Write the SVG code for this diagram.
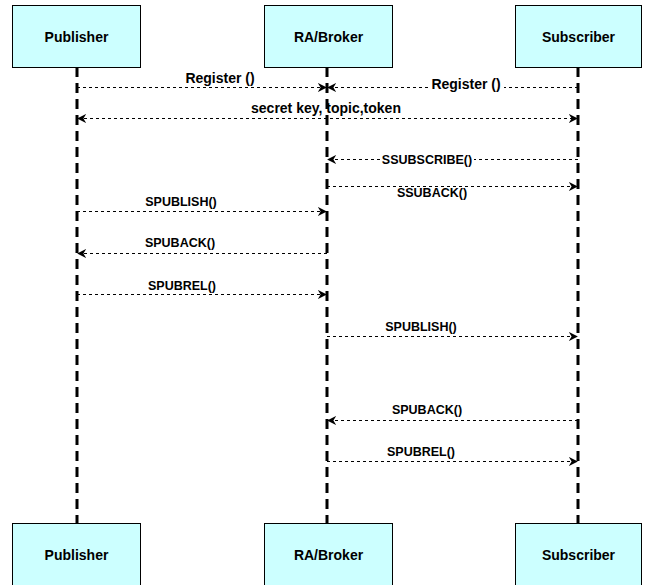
<svg xmlns="http://www.w3.org/2000/svg" width="648" height="585" viewBox="0 0 648 585">
<style>
.box{fill:#ccffff;stroke:#000;stroke-width:1}
.nl{font-family:"Liberation Sans",Arial,sans-serif;font-weight:bold;font-size:14px;text-anchor:middle;dominant-baseline:central}
.life{stroke:#000;stroke-width:3;stroke-dasharray:10 6;fill:none}
.msg{stroke:#000;stroke-width:1;stroke-dasharray:3 3;fill:none}
.ml{font-family:"Liberation Sans",Arial,sans-serif;font-weight:bold;font-size:12.5px;text-anchor:middle;dominant-baseline:central}
.mb{font-size:14px}
</style>
<defs>
<marker id="ah" viewBox="0 0 10 10" refX="9" refY="5" markerWidth="9" markerHeight="9" markerUnits="userSpaceOnUse" orient="auto-start-reverse">
<path d="M0,0 L10,5 L0,10 L3,5 Z" fill="#000"/>
</marker>
</defs>
<g id="lifelines">
<line class="life" x1="77" y1="67" x2="77" y2="523"/>
<line class="life" x1="327" y1="67" x2="327" y2="523"/>
<line class="life" x1="578" y1="67" x2="578" y2="523"/>
</g>
<g id="pub-top"><rect class="box" x="12.5" y="5.5" width="128" height="62"/><text class="nl" x="76.5" y="37">Publisher</text></g>
<g id="broker-top"><rect class="box" x="264.5" y="5.5" width="128" height="62"/><text class="nl" x="328.5" y="37">RA/Broker</text></g>
<g id="sub-top"><rect class="box" x="515.5" y="5.5" width="126" height="62"/><text class="nl" x="578.5" y="37">Subscriber</text></g>
<g id="pub-bot"><rect class="box" x="12.5" y="523.5" width="128" height="62"/><text class="nl" x="76.5" y="555">Publisher</text></g>
<g id="broker-bot"><rect class="box" x="264.5" y="523.5" width="128" height="62"/><text class="nl" x="328.5" y="555">RA/Broker</text></g>
<g id="sub-bot"><rect class="box" x="515.5" y="523.5" width="126" height="62"/><text class="nl" x="578.5" y="555">Subscriber</text></g>
<g id="connectors">
<line class="msg" x1="77" y1="87.5" x2="326" y2="87.5" marker-end="url(#ah)"/>
<text class="ml mb" x="220" y="78">Register ()</text>
<line class="msg" x1="578" y1="87.5" x2="328" y2="87.5" marker-end="url(#ah)"/>
<rect x="428" y="77" width="76" height="15" fill="#fff"/>
<text class="ml mb" x="466" y="84">Register ()</text>
<line class="msg" x1="78" y1="118.5" x2="577" y2="118.5" marker-start="url(#ah)" marker-end="url(#ah)"/>
<text class="ml mb" x="326" y="108">secret key, topic,token</text>
<line class="msg" x1="578" y1="159.5" x2="328" y2="159.5" marker-end="url(#ah)"/>
<rect x="380" y="152" width="94" height="15" fill="#fff"/>
<text class="ml" x="427" y="160">SSUBSCRIBE()</text>
<line class="msg" x1="327" y1="186.5" x2="577" y2="186.5" marker-end="url(#ah)"/>
<text class="ml" x="432" y="193">SSUBACK()</text>
<line class="msg" x1="77" y1="211.5" x2="326" y2="211.5" marker-end="url(#ah)"/>
<text class="ml" x="181" y="202">SPUBLISH()</text>
<line class="msg" x1="327" y1="253.5" x2="78" y2="253.5" marker-end="url(#ah)"/>
<text class="ml" x="180" y="243">SPUBACK()</text>
<line class="msg" x1="77" y1="294.5" x2="326" y2="294.5" marker-end="url(#ah)"/>
<text class="ml" x="182" y="286">SPUBREL()</text>
<line class="msg" x1="327" y1="336.5" x2="577" y2="336.5" marker-end="url(#ah)"/>
<text class="ml" x="421" y="327">SPUBLISH()</text>
<line class="msg" x1="578" y1="420.5" x2="328" y2="420.5" marker-end="url(#ah)"/>
<text class="ml" x="427" y="410">SPUBACK()</text>
<line class="msg" x1="327" y1="461.5" x2="577" y2="461.5" marker-end="url(#ah)"/>
<text class="ml" x="421" y="452">SPUBREL()</text>
</g>
</svg>
